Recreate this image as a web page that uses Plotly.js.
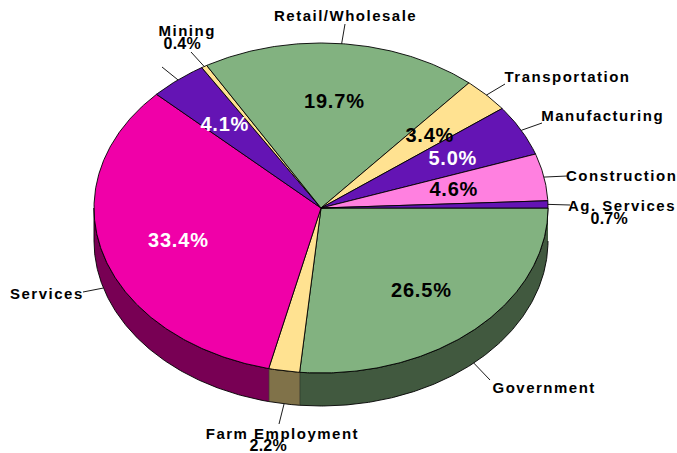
<!DOCTYPE html>
<html>
<head>
<meta charset="utf-8">
<script src="https://cdn.plot.ly/plotly-3.0.1.min.js"></script>
<style>
  html, body { margin: 0; padding: 0; background: #fff; }
  #chart { width: 677px; height: 453px; }
</style>
</head>
<body>
<div id="chart"></div>
<script>
// slices, clockwise from 3 o'clock
const sectors = ["Government", "Farm Employment", "Services", "", "Mining", "Retail/Wholesale", "Transportation", "Manufacturing", "Construction", "Ag. Services"];
const shares = [26.5, 2.2, 33.4, 4.1, 0.4, 19.7, 3.4, 5.0, 4.6, 0.7];
const topColors = ["#82B280", "#FFE291", "#F000A8", "#6414B4", "#FFE291", "#82B280", "#FFE291", "#6414B4", "#FF80E0", "#6414B4"];
const sideColors = ["#41593F", "#807249", "#780054", "#320A5A", "#807249", "#41593F", "#807249", "#320A5A", "#804070", "#320A5A"];

// label placement, same order as the slices
const shareColors = ["#000", "#000", "#fff", "#fff", "#000", "#000", "#000", "#fff", "#000", "#000"];
const sharePos = [[421, 290], [268, 445], [178, 240], [225, 124], [182, 43], [334, 101], [430, 135], [453, 158], [454, 189], [609, 218]];
const shareSize = [20, 16, 20, 20, 16, 20, 20, 20, 20, 16];
const namePos = [[544, 387], [282, 433], [47, 293], null, [187, 30], [345, 15], [567, 76], [602, 115], [621, 175], [622, 205]];
const leaderEnd = [[490, 380], [279, 424], [83, 292], [162, 67], [191, 52], [345, 24], [505, 84], [542, 123], [567, 176], [570, 205]];

const cx = 321;
const cy = 208;
const rx = 227;
const ry = 165;
const depth = 33;

function rimPoint(deg, drop) {
  const a = (deg * Math.PI) / 180;
  return [cx + rx * Math.cos(a), cy + ry * Math.sin(a) + drop];
}

function arc(from, to, drop) {
  const pts = [];
  const steps = Math.max(2, Math.ceil(Math.abs(to - from) * 2));
  for (let i = 0; i <= steps; i++) {
    pts.push(rimPoint(from + ((to - from) * i) / steps, drop));
  }
  return pts;
}

function polygon(pts, fillcolor) {
  return {
    x: pts.map((p) => p[0]),
    y: pts.map((p) => p[1]),
    type: "scatter",
    mode: "lines",
    fill: "toself",
    fillcolor,
    line: { color: "#000", width: 0.9 },
    hoverinfo: "skip",
  };
}

const traces = [];
const annotations = [];

let start = 0;
shares.forEach((share, i) => {
  const end = start + share * 3.6;
  const mid = (start + end) / 2;

  // the wall only shows on the front half
  if (start < 180) {
    const wallEnd = Math.min(end, 180);
    traces.push(polygon(arc(start, wallEnd, 0).concat(arc(wallEnd, start, depth)), sideColors[i]));
  }

  traces.push(polygon([[cx, cy]].concat(arc(start, end, 0), [[cx, cy]]), topColors[i]));

  const inFront = mid < 180;
  const tip = rimPoint(mid, inFront ? depth : 0);
  traces.push({
    x: [tip[0], leaderEnd[i][0]],
    y: [tip[1], leaderEnd[i][1]],
    type: "scatter",
    mode: "lines",
    line: { color: "#000", width: 0.9 },
    hoverinfo: "skip",
  });

  if (namePos[i]) {
    annotations.push({
      x: namePos[i][0],
      y: namePos[i][1],
      text: sectors[i],
      showarrow: false,
      font: { family: "Liberation Sans", size: 15, color: "#000", weight: 700 },
    });
  }
  annotations.push({
    x: sharePos[i][0],
    y: sharePos[i][1],
    text: share.toFixed(1) + "%",
    showarrow: false,
    font: { family: "Liberation Sans", size: shareSize[i], color: shareColors[i], weight: 700 },
  });

  start = end;
});

const layout = {
  width: 677,
  height: 453,
  margin: { l: 0, r: 0, t: 0, b: 0 },
  paper_bgcolor: "#fff",
  plot_bgcolor: "#fff",
  showlegend: false,
  xaxis: { range: [0, 677], visible: false, fixedrange: true },
  yaxis: { range: [453, 0], visible: false, fixedrange: true },
  annotations,
};

Plotly.newPlot("chart", traces, layout, { displayModeBar: false, staticPlot: true }).then(() => {
  // the original spreads its letters
  document.querySelectorAll(".annotation-text").forEach((t) => {
    const size = parseFloat(t.style.fontSize);
    t.style.letterSpacing = size === 15 ? "1.5px" : size === 20 ? "0.8px" : "0.2px";
  });
});
</script>
</body>
</html>
